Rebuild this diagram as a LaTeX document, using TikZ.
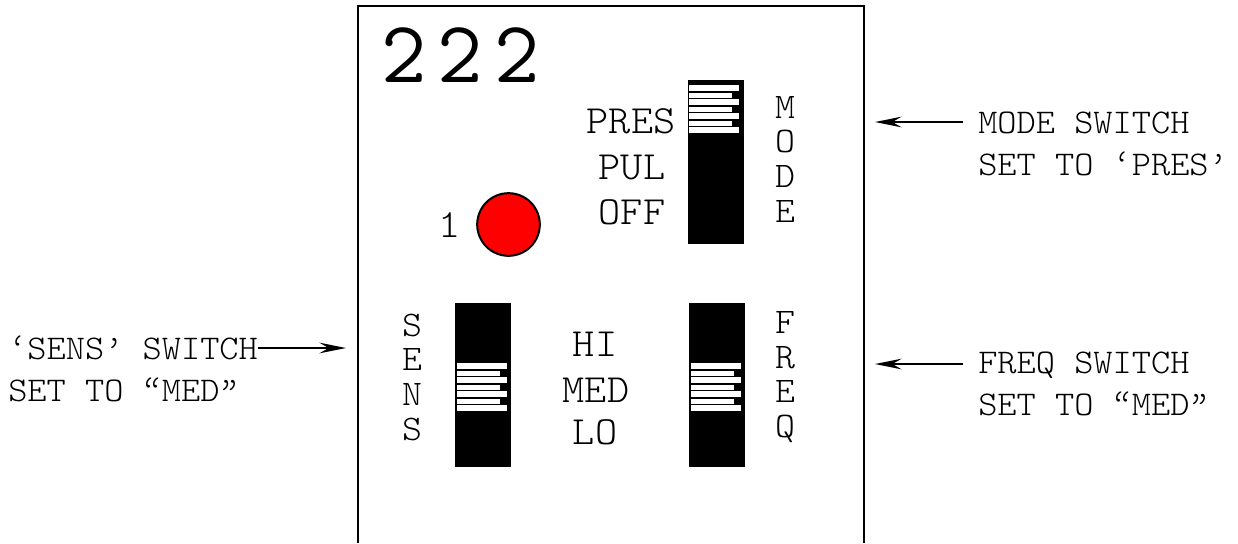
\documentclass[tikz,border=0pt]{standalone}
\usepackage{fontspec}
\usetikzlibrary{arrows.meta}
\setmonofont[FakeStretch=1.055]{Latin Modern Mono Light}
\newfontfamily\countfont{Latin Modern Mono}
\newcommand{\opq}{\rlap{\kern-.1em ‘}\kern.1em‘\kern-.1em}
\newcommand{\clq}{\rlap{\kern-.1em ’}\kern.1em’\kern-.1em}
\tikzset{
  note text/.style={font=\fontsize{26}{31}\selectfont\ttfamily,inner sep=0pt,align=left},
  panel text/.style={font=\fontsize{30}{26}\selectfont\ttfamily,inner sep=0pt,align=center},
  stack text/.style={font=\fontsize{27}{26}\selectfont\ttfamily,inner sep=0pt,align=center},
  switch body/.style={fill=black,draw=none},
  long slat/.style={fill=white,draw=none},
  short slat/.style={fill=white,draw=none},
  note arrow/.style={-{Stealth[length=20pt,width=8pt,inset=7pt]},line width=1},
}
\begin{document}
\begin{tikzpicture}[x=0.75pt,y=0.75pt,yscale=-1,xscale=1]
\useasboundingbox (0,0) rectangle (1238,543);

% panel, open at the bottom
\draw [line width=1.5]  (358,543) -- (358,6) -- (864,6) -- (864,543) ;

\node (count) [font=\fontsize{66}{66}\selectfont\countfont,inner sep=0pt] at (460.5,55) {2\hspace{8.5pt}2\hspace{8.5pt}2};
\node (lamp) [circle,draw,fill=red,line width=1.5,minimum size=47pt,inner sep=0pt] at (508.5,224.5) {};
\node (lampno) [panel text] at (450,225) {1};

% switch bodies
\draw [switch body] (688,80) rectangle (744,244) ;
\draw [switch body] (455,303) rectangle (511,467) ;
\draw [switch body] (689,303) rectangle (745,467) ;

% slats of the three switches
\foreach \sx/\sy in {689/85,457/363,691/363} {
  \foreach \i in {0,2,4,6} \fill [long slat] (\sx,\sy+\i*7) rectangle (\sx+50,\sy+\i*7+6) ;
  \foreach \i in {1,3,5} \fill [short slat] (\sx,\sy+\i*7+0.5) rectangle (\sx+43,\sy+\i*7+5.5) ;
}

\node (pres) [panel text] at (631,121) {PRES};
\node (pul) [panel text] at (632,167) {PUL};
\node (off) [panel text] at (632,212) {OFF};
\node (hi) [panel text] at (595,344) {HI};
\node (med) [panel text] at (596,390) {MED};
\node (lo) [panel text] at (595,432) {LO};

\node (modelab) [stack text] at (785,159) {M\\O\\D\\E};
\node (senslab) [stack text] at (412,377) {S\\E\\N\\S};
\node (freqlab) [stack text] at (785,377) {F\\R\\E\\Q};

\node (modenote) [note text,anchor=north west] at (978,112) {MODE SWITCH\\SET TO ‘PRES’};
\node (freqnote) [note text,anchor=north west] at (978,352) {FREQ SWITCH\\SET TO \opq MED\clq};
\node (sensnote) [note text,anchor=north west] at (8,336) {‘SENS’ SWITCH\\SET TO \opq MED\clq};

\coordinate (modeend) at (875,122);
\coordinate (freqend) at (875,364);
\coordinate (sensend) at (346,348);
\coordinate (modestart) at (963,122);
\coordinate (freqstart) at (963,364);
\coordinate (sensstart) at (258,348);
\draw [note arrow] (modestart) -- (modeend) ;
\draw [note arrow] (freqstart) -- (freqend) ;
\draw [note arrow] (sensstart) -- (sensend) ;
\end{tikzpicture}
\end{document}
